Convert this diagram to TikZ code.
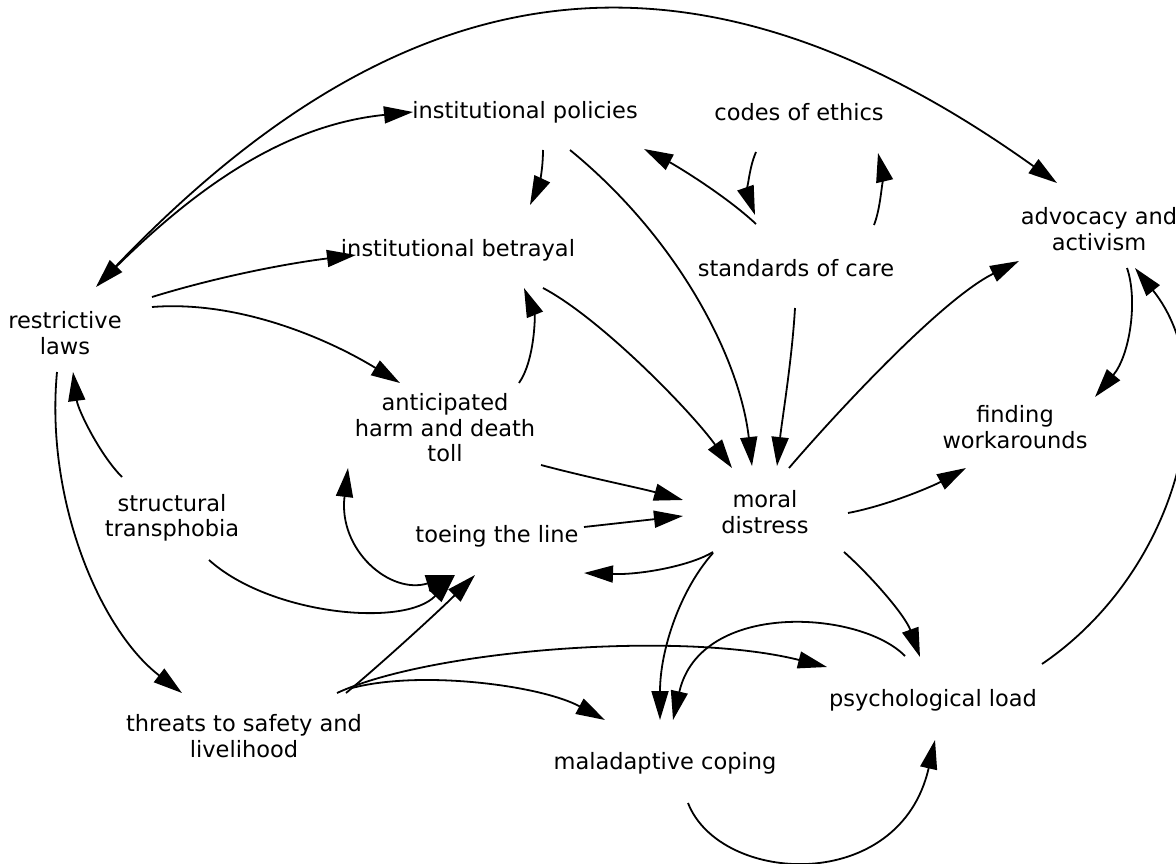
\documentclass[tikz,border=0pt]{standalone}
\usepackage{fontspec}
\setmainfont{DejaVu Sans}
\usetikzlibrary{arrows.meta,calc}
\begin{document}
\begin{tikzpicture}[x=1pt,y=-1pt,
  lbl/.style={align=center,inner sep=0pt,font=\fontsize{22.5}{25.5}\selectfont},
  link/.style={line width=1.8pt,-{Triangle[length=29pt,width=17pt]}},
  dlink/.style={line width=1.8pt,{Triangle[length=29pt,width=17pt]}-{Triangle[length=29pt,width=17pt]}}]
\useasboundingbox[fill=white] (0,0) rectangle (1176,864);
% nodes
\node[lbl] (rl) at (65,333) {restrictive\\laws};
\node[lbl] (pol) at (525,112) {institutional policies};
\node[lbl] (codes) at (799,112) {codes of ethics};
\node[lbl] (adv) at (1099,229) {advocacy and\\activism};
\node[lbl] (bet) at (458,250) {institutional betrayal};
\node[lbl] (soc) at (796,268) {standards of care};
\node[lbl] (ant) at (445,428) {anticipated\\harm and death\\toll};
\node[lbl] (fw) at (1015,427) {finding\\workarounds};
\node[lbl] (st) at (172,518) {structural\\transphobia};
\node[lbl] (md) at (765,512) {moral\\distress};
\node[lbl] (tl) at (497,536) {toeing the line};
\node[lbl] (th) at (244,736) {threats to safety and\\livelihood};
\node[lbl] (pl) at (933,700) {psychological load};
\node[lbl] (mc) at (665,763) {maladaptive coping};
% connectors
\draw[dlink] ($(rl)+(31,-46)$) .. controls (406,-37) and (692,-78) .. ($(adv)+(-42,-46)$);
\draw[link] ($(rl)+(33,-48)$) .. controls (180,201) and (274,126) .. ($(pol)+(-112,0)$);
\draw[link] ($(rl)+(87,-36)$) .. controls (220,276) and (290,263) .. ($(bet)+(-102,5)$);
\draw[link] ($(rl)+(87,-26)$) .. controls (240,300) and (330,340) .. ($(ant)+(-45,-45)$);
\draw[link] ($(rl)+(-8,39)$) .. controls (45,500) and (100,630) .. ($(th)+(-62,-43)$);
\draw[link] ($(st)+(-50,-41)$) .. controls (100,455) and (78,410) .. ($(rl)+(8,39)$);
\draw[link] ($(pol)+(18,38)$) .. controls (543,175) and (537,190) .. ($(bet)+(72,-45)$);
\draw[link] ($(pol)+(45,38)$) .. controls (680,240) and (740,360) .. ($(md)+(-13,-46)$);
\draw[link] ($(bet)+(85,38)$) .. controls (600,318) and (690,410) .. ($(md)+(-33,-44)$);
\draw[link] ($(ant)+(74,-45)$) .. controls (535,360) and (535,315) .. ($(bet)+(66,38)$);
\draw[link] ($(ant)+(96,37)$) .. controls (590,478) and (640,488) .. ($(md)+(-82,-12)$);
\draw[link] ($(tl)+(87,-9)$) -- ($(md)+(-82,4)$);
\draw[link] ($(md)+(-52,40)$) .. controls (690,566) and (640,575) .. ($(tl)+(87,37)$);
\draw[link] ($(soc)+(-1,40)$) .. controls (792,360) and (782,420) .. ($(md)+(12,-46)$);
\draw[link] ($(md)+(24,-44)$) .. controls (830,420) and (940,300) .. ($(adv)+(-80,32)$);
\draw[link] ($(md)+(83,1)$) .. controls (890,505) and (935,485) .. ($(fw)+(-49,41)$);
\draw[link] ($(adv)+(28,39)$) .. controls (1138,300) and (1130,355) .. ($(fw)+(80,-30)$);
\draw[link] ($(pl)+(109,-36)$) .. controls (1180,570) and (1225,380) .. ($(adv)+(36,39)$);
\draw[link] ($(codes)+(-43,40)$) .. controls (748,170) and (748,195) .. ($(soc)+(-41,-53)$);
\draw[link] ($(soc)+(-40,-44)$) .. controls (725,195) and (675,165) .. ($(pol)+(119,37)$);
\draw[link] ($(soc)+(78,-43)$) .. controls (882,205) and (882,170) .. ($(codes)+(79,41)$);
\draw[dlink] ($(tl)+(-42,39)$) .. controls (390,595) and (338,550) .. ($(ant)+(-97,40)$);
\draw[link] ($(st)+(37,42)$) .. controls (270,615) and (405,628) .. ($(tl)+(-42,39)$);
\draw[link] ($(th)+(102,-43)$) .. controls (380,665) and (440,610) .. ($(tl)+(-22,39)$);
\draw[link] ($(th)+(93,-43)$) .. controls (430,650) and (680,630) .. ($(pl)+(-106,-33)$);
\draw[link] ($(th)+(108,-48)$) .. controls (420,670) and (540,685) .. ($(mc)+(-60,-43)$);
\draw[link] ($(md)+(-52,41)$) .. controls (680,590) and (660,650) .. ($(mc)+(-5,-43)$);
\draw[link] ($(pl)+(-28,-44)$) .. controls (860,610) and (700,600) .. ($(mc)+(8,-43)$);
\draw[link] ($(md)+(79,40)$) .. controls (870,575) and (905,615) .. ($(pl)+(-13,-43)$);
\draw[link] ($(mc)+(23,40)$) .. controls (720,885) and (900,895) .. ($(pl)+(2,40)$);
\end{tikzpicture}
\end{document}
